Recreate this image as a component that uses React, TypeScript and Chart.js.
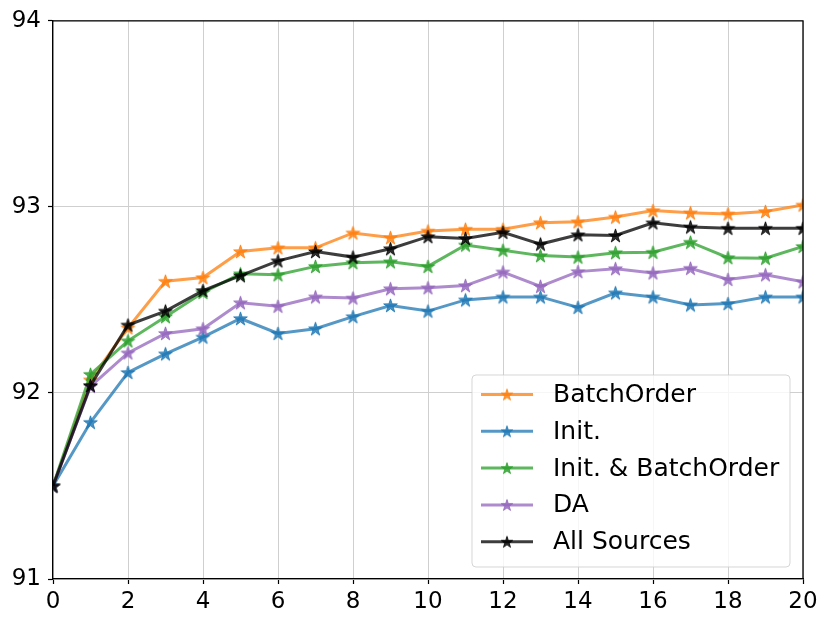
import React, { useEffect, useRef } from 'react';
import { Chart, registerables } from 'chart.js';

Chart.register(...registerables);

const FONT = '"DejaVu Sans", "Liberation Sans", sans-serif';

const epochs = [0, 1, 2, 3, 4, 5, 6, 7, 8, 9, 10, 11, 12, 13, 14, 15, 16, 17, 18, 19, 20];
const xTicks = [0, 2, 4, 6, 8, 10, 12, 14, 16, 18, 20];
const yTicks = [91, 92, 93, 94];

const batchOrder = [91.5, 92.07, 92.35, 92.6, 92.62, 92.76, 92.78, 92.78, 92.86, 92.835, 92.87, 92.88, 92.88, 92.915, 92.92, 92.945, 92.98, 92.968, 92.962, 92.975, 93.01];
const initOnly = [91.5, 91.842, 92.11, 92.21, 92.3, 92.4, 92.32, 92.345, 92.41, 92.47, 92.44, 92.5, 92.516, 92.516, 92.46, 92.538, 92.516, 92.473, 92.48, 92.516, 92.516];
const initBatch = [91.5, 92.1, 92.28, 92.41, 92.54, 92.64, 92.635, 92.68, 92.7, 92.705, 92.68, 92.795, 92.767, 92.738, 92.73, 92.754, 92.756, 92.81, 92.727, 92.724, 92.787];
const daOnly = [91.5, 92.035, 92.215, 92.32, 92.345, 92.485, 92.466, 92.516, 92.51, 92.56, 92.565, 92.577, 92.65, 92.573, 92.652, 92.668, 92.645, 92.67, 92.61, 92.635, 92.597];
const allSources = [91.5, 92.04, 92.365, 92.44, 92.55, 92.63, 92.71, 92.76, 92.73, 92.775, 92.84, 92.83, 92.863, 92.8, 92.85, 92.846, 92.914, 92.892, 92.885, 92.885, 92.885];

const seriesLabels = ['BatchOrder', 'Init.', 'Init. & BatchOrder', 'DA', 'All Sources'];
const seriesValues = [batchOrder, initOnly, initBatch, daOnly, allSources];
const seriesRGB = ['255,127,14', '31,119,180', '44,160,44', '148,103,189', '0,0,0'];

function makeStar(rgb: string, R: number): HTMLCanvasElement {
  const size = Math.ceil(R * 2 + 4);
  const c = document.createElement('canvas');
  c.width = size;
  c.height = size;
  const g = c.getContext('2d')!;
  const cx = size / 2;
  const cy = size / 2 + 0.6;
  g.beginPath();
  for (let i = 0; i < 10; i++) {
    const a = -Math.PI / 2 + (i * Math.PI) / 5;
    const r = i % 2 === 0 ? R : R * 0.382;
    const px = cx + r * Math.cos(a);
    const py = cy + r * Math.sin(a);
    if (i === 0) g.moveTo(px, py);
    else g.lineTo(px, py);
  }
  g.closePath();
  g.fillStyle = `rgba(${rgb},0.82)`;
  g.fill();
  g.lineWidth = 1;
  g.strokeStyle = `rgba(${rgb},0.82)`;
  g.stroke();
  return c;
}

const framePlugin = {
  id: 'frameAndLegend',
  afterDraw(chart: any) {
    const { ctx, chartArea } = chart;
    ctx.save();
    // top & right spines
    ctx.strokeStyle = '#000';
    ctx.lineWidth = 1.3;
    ctx.beginPath();
    ctx.moveTo(chartArea.left, chartArea.top);
    ctx.lineTo(chartArea.right, chartArea.top);
    ctx.lineTo(chartArea.right, chartArea.bottom);
    ctx.stroke();

    // legend
    const bx = chartArea.right - 331;
    const by = chartArea.bottom - 204;
    const bw = 318;
    const bh = 192;
    const rad = 4;
    ctx.beginPath();
    ctx.moveTo(bx + rad, by);
    ctx.lineTo(bx + bw - rad, by);
    ctx.arcTo(bx + bw, by, bx + bw, by + rad, rad);
    ctx.lineTo(bx + bw, by + bh - rad);
    ctx.arcTo(bx + bw, by + bh, bx + bw - rad, by + bh, rad);
    ctx.lineTo(bx + rad, by + bh);
    ctx.arcTo(bx, by + bh, bx, by + bh - rad, rad);
    ctx.lineTo(bx, by + rad);
    ctx.arcTo(bx, by, bx + rad, by, rad);
    ctx.closePath();
    ctx.fillStyle = 'rgba(255,255,255,0.8)';
    ctx.fill();
    ctx.strokeStyle = 'rgba(204,204,204,0.8)';
    ctx.lineWidth = 1;
    ctx.stroke();

    ctx.font = `25px ${FONT}`;
    ctx.textBaseline = 'middle';
    ctx.textAlign = 'left';
    chart.data.datasets.forEach((ds: any, i: number) => {
      const cy = by + 19.5 + i * 36.8;
      ctx.strokeStyle = ds.borderColor;
      ctx.lineWidth = 3;
      ctx.beginPath();
      ctx.moveTo(bx + 9, cy);
      ctx.lineTo(bx + 61, cy);
      ctx.stroke();
      const img = ds.legendStar as HTMLCanvasElement;
      ctx.drawImage(img, bx + 35 - img.width / 2, cy - img.height / 2);
      ctx.fillStyle = '#000';
      ctx.fillText(ds.label, bx + 81, cy + 1);
    });
    ctx.restore();
  },
};

export default function App() {
  const canvasRef = useRef<HTMLCanvasElement | null>(null);

  useEffect(() => {
    document.body.style.margin = '0';
    const canvas = canvasRef.current;
    if (!canvas) return;

    const datasets = seriesLabels.map((label, i) => ({
      label,
      data: epochs.map((x, j) => ({ x, y: seriesValues[i][j] })),
      borderColor: `rgba(${seriesRGB[i]},0.76)`,
      backgroundColor: `rgba(${seriesRGB[i]},0.76)`,
      borderWidth: 3,
      pointStyle: makeStar(seriesRGB[i], 7.2),
      legendStar: makeStar(seriesRGB[i], 6),
      pointRadius: 7,
      pointHoverRadius: 7,
      tension: 0,
      fill: false,
      clip: 0,
      order: seriesLabels.length - i,
    }));

    const chart = new Chart(canvas, {
      type: 'line',
      data: { datasets: datasets as any },
      options: {
        animation: false,
        responsive: false,
        events: [],
        layout: { padding: { left: 0, right: 27, top: 20, bottom: 0 } },
        plugins: {
          legend: { display: false },
          tooltip: { enabled: false },
        },
        scales: {
          x: {
            type: 'linear',
            min: 0,
            max: 20,
            afterFit: (s: any) => {
              s.height = 47;
            },
            afterBuildTicks: (s: any) => {
              s.ticks = xTicks.map((v) => ({ value: v }));
            },
            ticks: {
              color: '#000',
              font: { family: FONT, size: 23 },
              padding: 4,
              maxRotation: 0,
              autoSkip: false,
            },
            grid: {
              color: '#cfcfcf',
              lineWidth: 1,
              tickColor: '#000',
              tickLength: 5,
              tickWidth: 1.2,
            },
            border: { color: '#000', width: 1.3 },
          },
          y: {
            type: 'linear',
            min: 91,
            max: 94,
            afterFit: (s: any) => {
              s.width = 53;
            },
            afterBuildTicks: (s: any) => {
              s.ticks = yTicks.map((v) => ({ value: v }));
            },
            ticks: {
              color: '#000',
              font: { family: FONT, size: 23 },
              padding: 7,
              autoSkip: false,
            },
            grid: {
              color: '#cfcfcf',
              lineWidth: 1,
              tickColor: '#000',
              tickLength: 5,
              tickWidth: 1.2,
            },
            border: { color: '#000', width: 1.3 },
          },
        },
      },
      plugins: [framePlugin],
    });

    return () => {
      chart.destroy();
    };
  }, []);

  return (
    <div style={{ width: 830, height: 626, background: '#fff' }}>
      <canvas ref={canvasRef} width={830} height={626} style={{ display: 'block', width: 830, height: 626 }} />
    </div>
  );
}
